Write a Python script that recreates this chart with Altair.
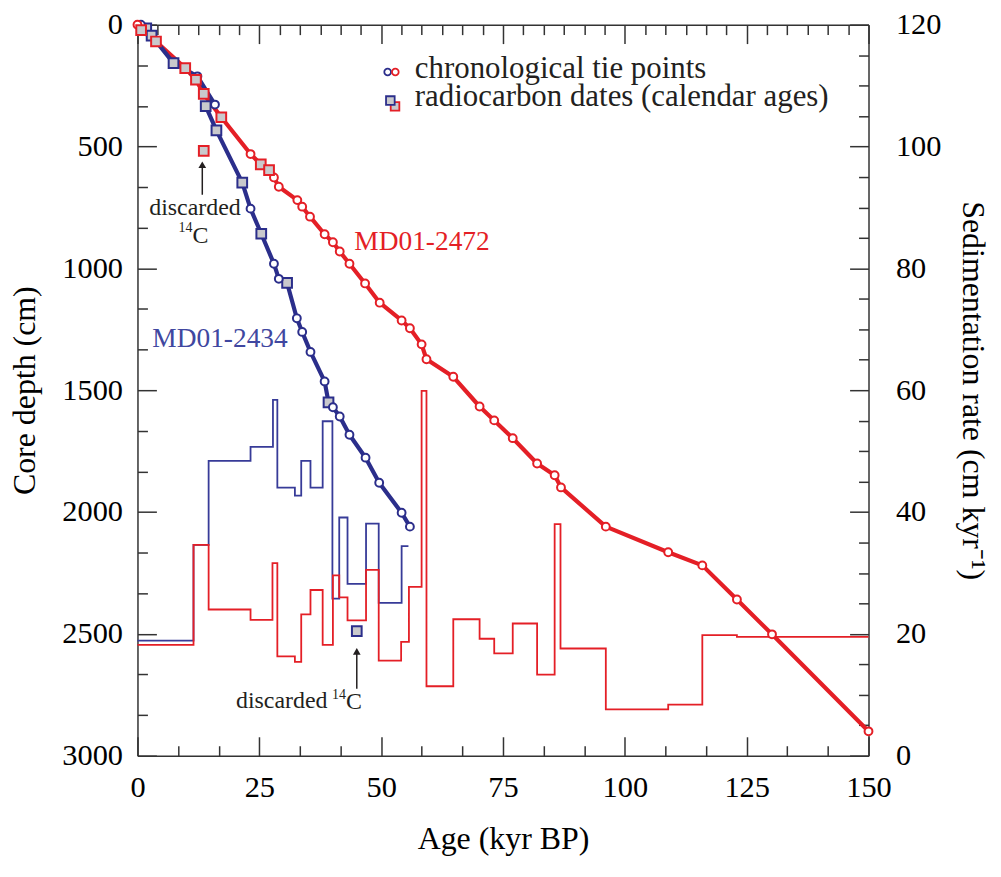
import altair as alt
import pandas as pd

# ---------------- data ----------------
# MD01-2472 (red): chronological tie points
red_tie_age = [0.0, 23.2, 28.0, 29.0, 32.8, 33.8, 35.4, 38.4, 40.1, 41.5, 43.5, 46.7, 49.7,
               54.2, 55.9, 58.3, 59.3, 64.8, 70.2, 73.2, 77.0, 82.0, 85.6, 86.9, 96.1,
               108.9, 115.9, 123.0, 130.2, 150.0]
red_tie_depth = [0, 531, 627, 665, 720, 747, 788, 860, 893, 931, 981, 1062, 1141,
                 1214, 1246, 1312, 1373, 1445, 1567, 1624, 1697, 1801, 1849, 1899, 2060,
                 2165, 2219, 2359, 2502, 2900]
# MD01-2472 radiocarbon dates (calendar ages)
red_c14_age = [0.75, 3.8, 9.8, 12.0, 13.6, 17.2, 25.3, 27.0]
red_c14_depth = [22, 69, 178, 226, 284, 380, 573, 597]
red_disc_age = [13.6]
red_disc_depth = [518]

# MD01-2434 (blue)
blue_tie_age = [0.7, 12.3, 15.9, 23.2, 28.0, 29.0, 32.7, 33.8, 35.5, 38.4, 40.1, 41.5,
                43.5, 46.8, 49.6, 54.2, 55.9]
blue_tie_depth = [0, 212, 328, 755, 981, 1043, 1205, 1261, 1343, 1464, 1570, 1608,
                  1683, 1777, 1880, 2003, 2060]
blue_c14_age = [1.8, 2.9, 7.4, 14.0, 16.2, 21.5, 25.4, 30.7, 39.2]
blue_c14_depth = [15, 45, 158, 334, 434, 648, 858, 1060, 1550]
blue_disc_age = [45.0]
blue_disc_depth = [2489]

# sedimentation rates (step functions, value holds from age until next age)
red_rate_age = [0, 11.5, 14.6, 23.2, 27.7, 28.7, 32.3, 33.6, 35.5, 38.0, 40.1, 41.4, 43.1,
                46.9, 49.5, 54.1, 55.7, 58.3, 59.3, 64.8, 70.2, 73.2, 77.0, 82.0, 85.6,
                86.8, 96.1, 108.9, 115.9, 123.0, 150.0]
red_rate = [18.2, 34.6, 24.0, 22.3, 31.6, 16.3, 15.4, 23.2, 27.2, 18.2, 29.6, 26.0, 22.2,
            30.5, 15.6, 18.7, 27.7, 59.9, 11.4, 22.4, 19.2, 16.8, 21.7, 13.3, 38.0,
            17.6, 7.6, 8.4, 19.8, 19.5, 19.5]
blue_rate_age = [0, 11.5, 14.6, 23.2, 27.8, 28.7, 32.3, 33.6, 35.5, 38.0, 40.0, 41.4, 43.1,
                 46.9, 49.5, 54.2, 55.6]
blue_rate = [18.9, 34.6, 48.4, 50.7, 58.4, 44.0, 42.7, 48.4, 44.0, 54.9, 25.8, 39.1, 28.2,
             38.1, 25.1, 34.4, 34.4]

# ---------------- styling ----------------
RED = "#e41f26"
BLUE = "#2b2e8b"
BLUE_STEP = "#373b98"
BLUE_TEXT = "#4047a0"
GREY = "#c9c9cc"
INK = "#231f20"
FONT = "Liberation Serif"
W, H = 734, 734

x_ticks = [k * 25 / 6 for k in range(37)]
depth_ticks = [k * 500 / 6 for k in range(37)]
rate_ticks = list(range(0, 121, 5))


def major(step):
    return f"abs(datum.value/{step} - round(datum.value/{step})) < 0.001"


def tsize(step, big, small):
    return {"condition": {"test": major(step), "value": big}, "value": small}


common = dict(grid=False, labelFlush=False, labelOverlap=False, labelFont=FONT,
              labelFontSize=30.5, labelColor="black", titleFont=FONT, titleFontSize=32,
              titleFontWeight="normal", titleColor="black", domainColor="#333333",
              domainWidth=1.5, tickColor="#333333", tickWidth=1.5)

xscale = alt.Scale(domain=[0, 150], nice=False, zero=False)
dscale = alt.Scale(domain=[0, 3000], reverse=True, nice=False, zero=False)
rscale = alt.Scale(domain=[0, 120], nice=False, zero=False)

x_bottom = alt.X("age:Q", scale=xscale, axis=alt.Axis(
    orient="bottom", values=x_ticks, title="Age (kyr BP)",
    labelExpr=f"{major(25)} ? format(datum.value, 'd') : ''",
    tickSize=tsize(25, -19, -10), labelPadding=36, titlePadding=12, **common))
y_left = alt.Y("depth:Q", scale=dscale, axis=alt.Axis(
    orient="left", values=depth_ticks, title="Core depth (cm)",
    labelExpr=f"{major(500)} ? format(datum.value, 'd') : ''",
    tickSize=tsize(500, -19, -10), labelPadding=34, titlePadding=20, **common))
x_top = alt.X("age:Q", scale=xscale, axis=alt.Axis(
    orient="top", values=x_ticks, title="", labels=False,
    tickSize=tsize(25, -19, -10), **common))
y_right = alt.Y("rate:Q", scale=rscale, axis=alt.Axis(
    orient="right", values=rate_ticks, title="Sedimentation rate (cm kyr\u207b\u00b9)",
    labelExpr=f"{major(20)} ? format(datum.value, 'd') : ''",
    tickSize=tsize(20, -19, -10), labelPadding=46, titlePadding=15, **common))

# ---------------- tables ----------------
red_tie = pd.DataFrame({"age": red_tie_age, "depth": red_tie_depth})
red_c14 = pd.DataFrame({"age": red_c14_age, "depth": red_c14_depth})
red_disc = pd.DataFrame({"age": red_disc_age, "depth": red_disc_depth})
blue_tie = pd.DataFrame({"age": blue_tie_age, "depth": blue_tie_depth})
blue_c14 = pd.DataFrame({"age": blue_c14_age, "depth": blue_c14_depth})
blue_disc = pd.DataFrame({"age": blue_disc_age, "depth": blue_disc_depth})
red_path = pd.concat([red_tie, red_c14]).sort_values("depth")
blue_path = pd.concat([blue_tie, blue_c14]).sort_values("depth")
red_steps = pd.DataFrame({"age": red_rate_age, "rate": red_rate})
blue_steps = pd.DataFrame({"age": blue_rate_age, "rate": blue_rate})
one = pd.DataFrame({"k": [0]})

# ---------------- sedimentation-rate group (right axis) ----------------
blue_step_line = alt.Chart(blue_steps).mark_line(
    interpolate="step-after", color=BLUE_STEP, strokeWidth=1.8
).encode(x=x_top, y=y_right)
red_step_line = alt.Chart(red_steps).mark_line(
    interpolate="step-after", color=RED, strokeWidth=1.8
).encode(x=x_top, y=y_right)
rate_group = alt.layer(blue_step_line, red_step_line)

# ---------------- age-depth group (left axis) ----------------
enc = dict(x=x_bottom, y=y_left)
red_line = alt.Chart(red_path).mark_line(color=RED, strokeWidth=4.2, strokeJoin="round").encode(
    order="depth:Q", **enc)
blue_line = alt.Chart(blue_path).mark_line(color=BLUE, strokeWidth=4.2, strokeJoin="round").encode(
    order="depth:Q", **enc)
blue_sq = alt.Chart(pd.concat([blue_c14, blue_disc])).mark_square(
    color=GREY, stroke=BLUE, size=95, opacity=1, strokeWidth=2).encode(**enc)
blue_circ = alt.Chart(blue_tie).mark_circle(
    color="white", stroke=BLUE, size=62, opacity=1, strokeWidth=2).encode(**enc)
red_circ = alt.Chart(red_tie).mark_circle(
    color="white", stroke=RED, size=62, opacity=1, strokeWidth=2).encode(**enc)
red_sq = alt.Chart(pd.concat([red_c14, red_disc])).mark_square(
    color=GREY, stroke=RED, size=95, opacity=1, strokeWidth=2).encode(**enc)


def label(text, age, depth, color, size, align="left", baseline="middle"):
    return alt.Chart(one).mark_text(
        text=text, color=color, font=FONT, fontSize=size, align=align, baseline=baseline
    ).encode(x=alt.datum(age), y=alt.datum(depth))


texts = [
    label("MD01-2472", 44.5, 894, RED, 27.5),
    label("MD01-2434", 3.05, 1290, BLUE_TEXT, 27.5),
    label("discarded", 11.8, 751, INK, 24, align="center"),
    label("14", 11.3, 836, INK, 14, align="right"),
    label("C", 11.3, 866, INK, 24, align="left"),
    label("discarded", 29.6, 2774, INK, 24, align="center"),
    label("14", 42.8, 2749, INK, 14, align="right"),
    label("C", 42.8, 2778, INK, 24, align="left"),
]

arrows = []
for a, d_top, d_bot, d_head in [(13.3, 583, 698, 575), (45.0, 2580, 2725, 2572)]:
    arrows.append(alt.Chart(one).mark_rule(color=INK, strokeWidth=1.5).encode(
        x=alt.datum(a), y=alt.datum(d_top), y2=alt.datum(d_bot)))
    arrows.append(alt.Chart(one).mark_point(
        shape="triangle-up", filled=True, color=INK, size=60, opacity=1).encode(
        x=alt.datum(a), y=alt.datum(d_head)))

# ---------------- legend (pixel placement inside the plot) ----------------
legend = [
    alt.Chart(one).mark_circle(color="white", stroke=BLUE, strokeWidth=1.8, size=45, opacity=1)
    .encode(x=alt.value(251.2), y=alt.value(47.5)),
    alt.Chart(one).mark_circle(color="white", stroke=RED, strokeWidth=1.8, size=45, opacity=1)
    .encode(x=alt.value(258.9), y=alt.value(47.5)),
    alt.Chart(one).mark_square(color=GREY, stroke=RED, strokeWidth=1.8, size=75, opacity=1)
    .encode(x=alt.value(258.6), y=alt.value(82)),
    alt.Chart(one).mark_square(color=GREY, stroke=BLUE, strokeWidth=1.8, size=75, opacity=1)
    .encode(x=alt.value(253.9), y=alt.value(76.2)),
    alt.Chart(one).mark_text(text="chronological tie points", font=FONT, fontSize=31,
                             color=INK, align="left", baseline="alphabetic")
    .encode(x=alt.value(278.5), y=alt.value(53.5)),
    alt.Chart(one).mark_text(text="radiocarbon dates (calendar ages)", font=FONT, fontSize=31,
                             color=INK, align="left", baseline="alphabetic")
    .encode(x=alt.value(278.5), y=alt.value(81.5)),
]

depth_group = alt.layer(red_line, blue_line, blue_sq, blue_circ, red_circ, red_sq,
                        *texts, *arrows, *legend)

chart = alt.layer(rate_group, depth_group).resolve_scale(
    x="independent", y="independent"
).properties(
    width=W, height=H,
    autosize=alt.AutoSizeParams(type="none"),
    padding={"left": 130, "top": 15, "right": 125, "bottom": 105},
    background="white",
).configure_view(stroke=None)

chart.save("out.html", embed_options={"renderer": "svg", "actions": False})
